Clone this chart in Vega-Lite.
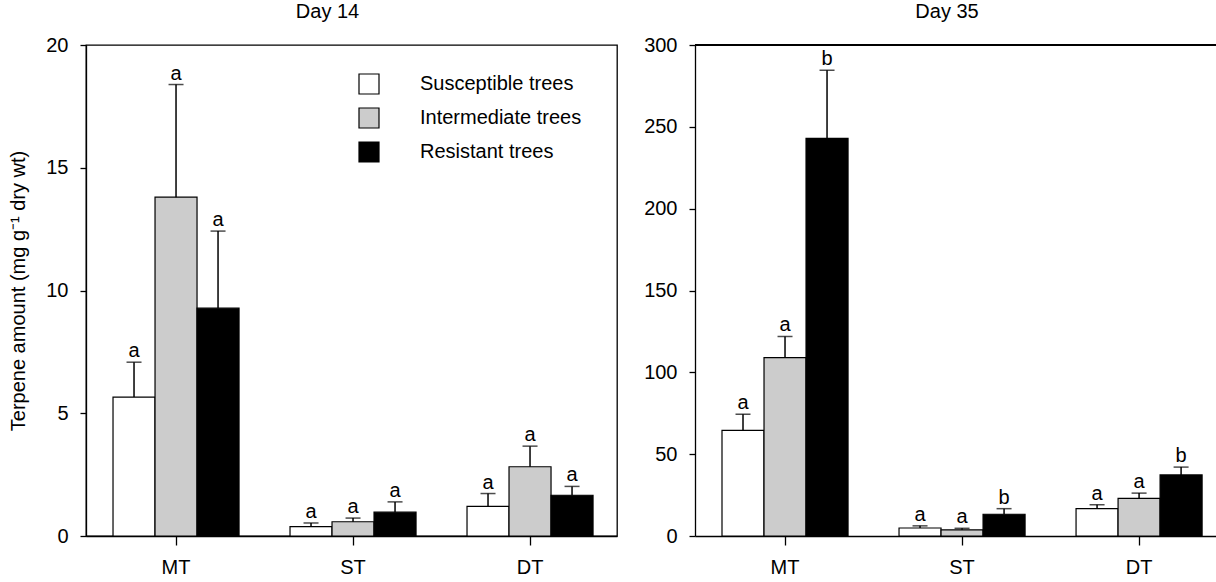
{
  "$schema": "https://vega.github.io/schema/vega-lite/v6.json",
  "padding": {"left": 8, "top": 1, "right": 0, "bottom": 0},
  "spacing": 25,
  "data": {"values": [
    {"day": "Day 14", "site": "MT", "group": "Susceptible trees", "mean": 5.66, "hi": 7.08, "letter": "a"},
    {"day": "Day 14", "site": "MT", "group": "Intermediate trees", "mean": 13.8, "hi": 18.39, "letter": "a"},
    {"day": "Day 14", "site": "MT", "group": "Resistant trees", "mean": 9.28, "hi": 12.42, "letter": "a"},
    {"day": "Day 14", "site": "ST", "group": "Susceptible trees", "mean": 0.38, "hi": 0.53, "letter": "a"},
    {"day": "Day 14", "site": "ST", "group": "Intermediate trees", "mean": 0.58, "hi": 0.73, "letter": "a"},
    {"day": "Day 14", "site": "ST", "group": "Resistant trees", "mean": 0.97, "hi": 1.39, "letter": "a"},
    {"day": "Day 14", "site": "DT", "group": "Susceptible trees", "mean": 1.21, "hi": 1.73, "letter": "a"},
    {"day": "Day 14", "site": "DT", "group": "Intermediate trees", "mean": 2.82, "hi": 3.66, "letter": "a"},
    {"day": "Day 14", "site": "DT", "group": "Resistant trees", "mean": 1.66, "hi": 2.02, "letter": "a"},
    {"day": "Day 35", "site": "MT", "group": "Susceptible trees", "mean": 64.5, "hi": 74.4, "letter": "a"},
    {"day": "Day 35", "site": "MT", "group": "Intermediate trees", "mean": 109, "hi": 121.9, "letter": "a"},
    {"day": "Day 35", "site": "MT", "group": "Resistant trees", "mean": 243, "hi": 284.5, "letter": "b"},
    {"day": "Day 35", "site": "ST", "group": "Susceptible trees", "mean": 4.9, "hi": 6.2, "letter": "a"},
    {"day": "Day 35", "site": "ST", "group": "Intermediate trees", "mean": 3.8, "hi": 4.7, "letter": "a"},
    {"day": "Day 35", "site": "ST", "group": "Resistant trees", "mean": 13.3, "hi": 16.7, "letter": "b"},
    {"day": "Day 35", "site": "DT", "group": "Susceptible trees", "mean": 16.7, "hi": 19.1, "letter": "a"},
    {"day": "Day 35", "site": "DT", "group": "Intermediate trees", "mean": 23.0, "hi": 26.2, "letter": "a"},
    {"day": "Day 35", "site": "DT", "group": "Resistant trees", "mean": 37.3, "hi": 42.1, "letter": "b"}
  ]},
  "config": {
    "font": "Liberation Sans",
    "view": {"stroke": "black", "strokeWidth": 1.3},
    "axis": {
      "labelFont": "Liberation Sans", "labelFontSize": 20, "labelColor": "black",
      "titleFont": "Liberation Sans", "titleFontSize": 20, "titleFontWeight": "normal", "titleColor": "black",
      "domainColor": "black", "domainWidth": 1.3, "tickColor": "black", "tickWidth": 1.3,
      "grid": false
    },
    "title": {"font": "Liberation Sans", "fontSize": 20, "fontWeight": "normal", "color": "black", "offset": 13},
    "legend": {
      "labelFont": "Liberation Sans", "labelFontSize": 20, "labelColor": "black", "labelLimit": 400,
      "symbolType": "square", "symbolSize": 400, "symbolStrokeColor": "black", "symbolStrokeWidth": 1.2,
      "labelOffset": 40, "rowPadding": 8
    }
  },
  "resolve": {
    "scale": {"x": "independent", "y": "independent", "xOffset": "independent", "fill": "independent"},
    "legend": {"fill": "independent"}
  },
  "hconcat": [
    {
      "title": {"text": "Day 14", "dx": -24},
      "width": 531,
      "height": 491,
      "transform": [{"filter": "datum.day == 'Day 14'"}],
      "layer": [
        {
          "mark": {"type": "bar", "stroke": "black", "strokeWidth": 1.2},
          "encoding": {
            "x": {"field": "site", "type": "nominal", "sort": ["MT", "ST", "DT"],
                  "scale": {"paddingInner": 0.288, "paddingOuter": 0.144, "align": 0.53},
                  "axis": {"title": null, "labelAngle": 0, "tickSize": 9, "labelPadding": 12}},
            "xOffset": {"field": "group", "type": "nominal", "sort": ["Susceptible trees", "Intermediate trees", "Resistant trees"],
                        "scale": {"paddingInner": 0, "paddingOuter": 0}},
            "y": {"field": "mean", "type": "quantitative", "scale": {"domain": [0, 20]},
                  "axis": {"title": "Terpene amount (mg g⁻¹ dry wt)", "values": [0, 5, 10, 15, 20], "tickSize": 6, "labelPadding": 12, "titlePadding": 17}},
            "fill": {"field": "group", "type": "nominal",
                     "scale": {"domain": ["Susceptible trees", "Intermediate trees", "Resistant trees"], "range": ["white", "#cccccc", "black"]},
                     "legend": {"title": null, "orient": "none", "legendX": 272, "legendY": 28}}
          }
        },
        {
          "mark": {"type": "rule", "color": "black", "strokeWidth": 1.5},
          "encoding": {
            "x": {"field": "site", "type": "nominal", "sort": ["MT", "ST", "DT"]},
            "xOffset": {"field": "group", "type": "nominal", "sort": ["Susceptible trees", "Intermediate trees", "Resistant trees"]},
            "y": {"field": "mean", "type": "quantitative", "axis": {"title": "Terpene amount (mg g⁻¹ dry wt)"}},
            "y2": {"field": "hi"}
          }
        },
        {
          "mark": {"type": "tick", "orient": "horizontal", "size": 15, "thickness": 1.5, "color": "black"},
          "encoding": {
            "x": {"field": "site", "type": "nominal", "sort": ["MT", "ST", "DT"]},
            "xOffset": {"field": "group", "type": "nominal", "sort": ["Susceptible trees", "Intermediate trees", "Resistant trees"]},
            "y": {"field": "hi", "type": "quantitative", "axis": {"title": "Terpene amount (mg g⁻¹ dry wt)"}}
          }
        },
        {
          "mark": {"type": "text", "baseline": "alphabetic", "dy": -5, "fontSize": 20, "color": "black"},
          "encoding": {
            "x": {"field": "site", "type": "nominal", "sort": ["MT", "ST", "DT"]},
            "xOffset": {"field": "group", "type": "nominal", "sort": ["Susceptible trees", "Intermediate trees", "Resistant trees"]},
            "y": {"field": "hi", "type": "quantitative", "axis": {"title": "Terpene amount (mg g⁻¹ dry wt)"}},
            "text": {"field": "letter"}
          }
        }
      ]
    },
    {
      "title": {"text": "Day 35", "dx": -10},
      "width": 524,
      "height": 491,
      "view": {"stroke": null},
      "transform": [{"filter": "datum.day == 'Day 35'"}],
      "layer": [
        {
          "mark": {"type": "bar", "stroke": "black", "strokeWidth": 1.2},
          "encoding": {
            "x": {"field": "site", "type": "nominal", "sort": ["MT", "ST", "DT"],
                  "scale": {"paddingInner": 0.288, "paddingOuter": 0.124, "align": 0.615},
                  "axis": {"title": null, "labelAngle": 0, "tickSize": 9, "labelPadding": 12}},
            "xOffset": {"field": "group", "type": "nominal", "sort": ["Susceptible trees", "Intermediate trees", "Resistant trees"],
                        "scale": {"paddingInner": 0, "paddingOuter": 0}},
            "y": {"field": "mean", "type": "quantitative", "scale": {"domain": [0, 300]},
                  "axis": {"title": null, "values": [0, 50, 100, 150, 200, 250, 300], "tickSize": 6, "labelPadding": 12}},
            "fill": {"field": "group", "type": "nominal",
                     "scale": {"domain": ["Susceptible trees", "Intermediate trees", "Resistant trees"], "range": ["white", "#cccccc", "black"]},
                     "legend": null}
          }
        },
        {
          "mark": {"type": "rule", "color": "black", "strokeWidth": 1.5},
          "encoding": {
            "x": {"field": "site", "type": "nominal", "sort": ["MT", "ST", "DT"]},
            "xOffset": {"field": "group", "type": "nominal", "sort": ["Susceptible trees", "Intermediate trees", "Resistant trees"]},
            "y": {"field": "mean", "type": "quantitative", "axis": {"title": null}},
            "y2": {"field": "hi"}
          }
        },
        {
          "mark": {"type": "tick", "orient": "horizontal", "size": 15, "thickness": 1.5, "color": "black"},
          "encoding": {
            "x": {"field": "site", "type": "nominal", "sort": ["MT", "ST", "DT"]},
            "xOffset": {"field": "group", "type": "nominal", "sort": ["Susceptible trees", "Intermediate trees", "Resistant trees"]},
            "y": {"field": "hi", "type": "quantitative", "axis": {"title": null}}
          }
        },
        {
          "mark": {"type": "text", "baseline": "alphabetic", "dy": -5, "fontSize": 20, "color": "black"},
          "encoding": {
            "x": {"field": "site", "type": "nominal", "sort": ["MT", "ST", "DT"]},
            "xOffset": {"field": "group", "type": "nominal", "sort": ["Susceptible trees", "Intermediate trees", "Resistant trees"]},
            "y": {"field": "hi", "type": "quantitative", "axis": {"title": null}},
            "text": {"field": "letter"}
          }
        },
        {
          "mark": {"type": "rule", "color": "black", "strokeWidth": 1.3},
          "encoding": {"y": {"datum": 300, "type": "quantitative", "axis": {"title": null}}}
        }
      ]
    }
  ]
}
